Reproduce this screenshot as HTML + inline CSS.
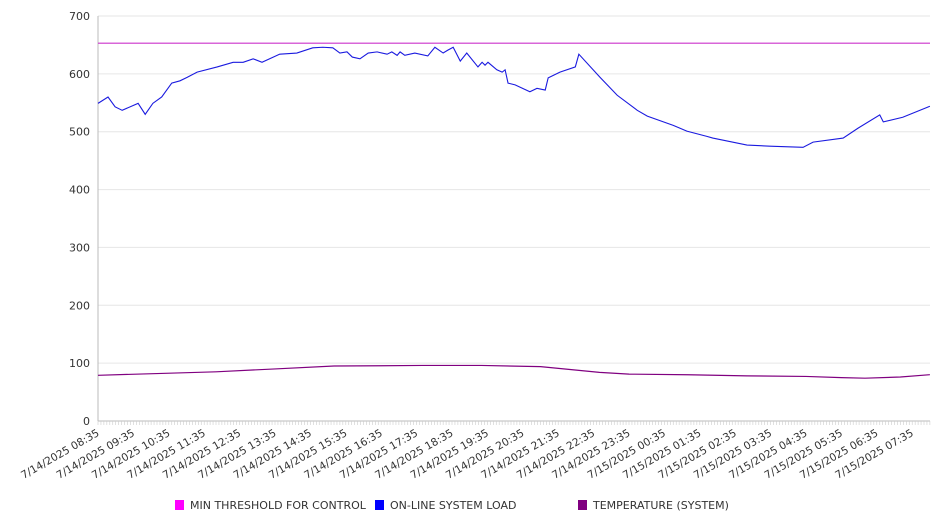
<!DOCTYPE html>
<html><head><meta charset="utf-8"><style>
body{margin:0;background:#fff;}
svg text{font-family:"DejaVu Sans","Liberation Sans",sans-serif;fill:#333;}
</style></head><body>
<svg width="946" height="526" id="chart"></svg>
<script>
const yTicks=[0,100,200,300,400,500,600,700];
const xLabels=["7/14/2025 08:35","7/14/2025 09:35","7/14/2025 10:35","7/14/2025 11:35","7/14/2025 12:35","7/14/2025 13:35","7/14/2025 14:35","7/14/2025 15:35","7/14/2025 16:35","7/14/2025 17:35","7/14/2025 18:35","7/14/2025 19:35","7/14/2025 20:35","7/14/2025 21:35","7/14/2025 22:35","7/14/2025 23:35","7/15/2025 00:35","7/15/2025 01:35","7/15/2025 02:35","7/15/2025 03:35","7/15/2025 04:35","7/15/2025 05:35","7/15/2025 06:35","7/15/2025 07:35"];
const thresholdValue=653;
const loadTimes=[0,17,29,41,68,80,93,108,125,139,151,168,202,229,246,263,278,308,337,364,381,398,410,422,431,444,458,473,490,498,507,512,520,537,559,571,585,593,602,614,625,644,651,656,661,676,685,690,695,707,732,744,758,763,783,809,815,851,880,914,931,975,998,1032,1042,1100,1139,1195,1212,1263,1288,1325,1331,1364,1410];
const loadValues=[549,560,543,537,549,530,549,560,584,588,594,603,612,620,620,626,620,634,636,645,646,645,636,638,629,626,636,638,634,638,632,638,632,636,631,646,636,641,646,622,636,612,620,615,620,607,603,607,584,581,569,575,572,593,603,612,634,594,563,537,527,511,501,492,489,477,475,473,482,489,506,529,517,525,544];
const tempTimes=[0,100,200,300,400,550,650,750,800,850,900,1000,1100,1200,1260,1300,1360,1410];
const tempValues=[79,82,85,90,95,96,96,94,89,84,81,80,78,77,75,74,76,80];
const L=98,R=930,T=16,B=421,totalMin=1410,hourPx=35.4;
const xs=t=>L+t*(hourPx/60);
const ys=v=>B-(v/700)*(B-T);
const svg=document.getElementById('chart');
const NS='http://www.w3.org/2000/svg';
function mk(tag,attrs,parent){const e=document.createElementNS(NS,tag);for(const k in attrs)e.setAttribute(k,attrs[k]);(parent||svg).appendChild(e);return e;}
yTicks.forEach(v=>{
  const g=mk('line',{x1:L,x2:R,y1:ys(v),y2:ys(v),stroke:v===0?'#bbb':'#e6e6e6','stroke-width':1});
  
  
  const t=mk('text',{x:L-8,y:ys(v)+4,'text-anchor':'end','font-size':11});
  t.textContent=v;
  
  
});
const ax=mk('line',{x1:L,x2:L,y1:T,y2:B,stroke:'#bbb'});


for(let m=0;m<=totalMin;m+=5){
  const tk=mk('line',{x1:xs(m),x2:xs(m),y1:B,y2:B+4,stroke:'#ccc','stroke-width':0.6});
  
  
}
xLabels.forEach((s,i)=>{
  const x=xs(i*60)+2,y=B+14;
  const t=mk('text',{x:x,y:y,'text-anchor':'end','font-size':10.6,transform:`rotate(-30 ${x} ${y})`});
  t.textContent=s;
  
  
});
const th=mk('line',{x1:L,x2:R,y1:ys(thresholdValue),y2:ys(thresholdValue),stroke:'#cc33cc','stroke-width':1.2});


const lp=mk('polyline',{points:loadTimes.map((t,i)=>xs(t)+','+ys(loadValues[i])).join(' '),fill:'none',stroke:'#1a1adf','stroke-width':1.1});


const tp=mk('polyline',{points:tempTimes.map((t,i)=>xs(t)+','+ys(tempValues[i])).join(' '),fill:'none',stroke:'#800080','stroke-width':1.2});


const legend=[["MIN THRESHOLD FOR CONTROL","#ff00ff",175],["ON-LINE SYSTEM LOAD","#0000ff",375],["TEMPERATURE (SYSTEM)","#800080",578]];
legend.forEach(([n,c,x])=>{
  const r=mk('rect',{x:x,y:500,width:9,height:10,fill:c});
  
  
  const t=mk('text',{x:x+15,y:509,'font-size':11});
  t.textContent=n;
  
  
});
</script>
</body></html>
